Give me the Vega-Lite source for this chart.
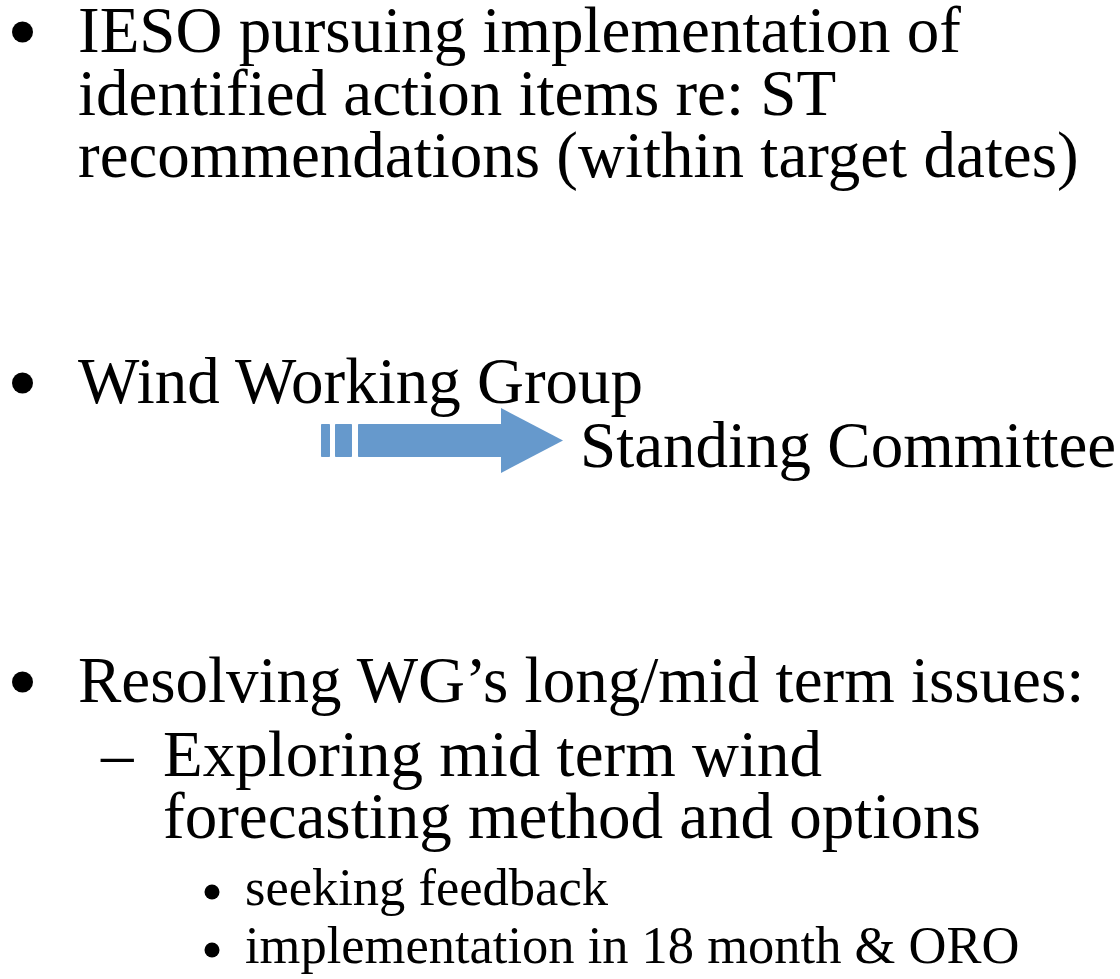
{
  "$schema": "https://vega.github.io/schema/vega-lite/v6.json",
  "width": 1120,
  "height": 979,
  "autosize": {"type": "fit", "contains": "padding"},
  "padding": 0,
  "background": "white",
  "config": {"view": {"stroke": null}},
  "datasets": {
    "lines": [
      {"text": "IESO pursuing implementation of", "x": 78, "y": 52, "level": "main"},
      {"text": "identified action items re: ST", "x": 78, "y": 115, "level": "main"},
      {"text": "recommendations (within target dates)", "x": 78, "y": 177, "level": "main"},
      {"text": "Wind Working Group", "x": 78, "y": 403, "level": "main"},
      {"text": "Standing Committee", "x": 580, "y": 467, "level": "main"},
      {"text": "Resolving WG’s long/mid term issues:", "x": 78, "y": 702, "level": "main"},
      {"text": "–", "x": 101, "y": 776, "level": "main"},
      {"text": "Exploring mid term wind", "x": 163, "y": 776, "level": "main"},
      {"text": "forecasting method and options", "x": 163, "y": 838, "level": "main"},
      {"text": "seeking feedback", "x": 245, "y": 905, "level": "sub"},
      {"text": "implementation in 18 month & ORO", "x": 245, "y": 963, "level": "sub"}
    ],
    "bullets": [
      {"x": 22.5, "y": 32, "level": "main"},
      {"x": 22.5, "y": 383, "level": "main"},
      {"x": 22.5, "y": 682, "level": "main"},
      {"x": 212, "y": 892, "level": "sub"},
      {"x": 212, "y": 950, "level": "sub"}
    ],
    "arrowParts": [
      {"x": 321, "x2": 330, "y": 424, "y2": 457},
      {"x": 335, "x2": 352, "y": 424, "y2": 457},
      {"x": 358, "x2": 502, "y": 424, "y2": 457}
    ],
    "arrowHead": [
      {"x": 501, "y": 408, "y2": 473},
      {"x": 563, "y": 440.5, "y2": 440.5}
    ]
  },
  "layer": [
    {
      "data": {"name": "arrowParts"},
      "mark": {"type": "rect", "color": "#6699cc", "cornerRadius": 1},
      "encoding": {
        "x": {"field": "x", "type": "quantitative", "scale": {"domain": [0, 1120], "nice": false, "zero": false}, "axis": null},
        "x2": {"field": "x2"},
        "y": {"field": "y", "type": "quantitative", "scale": {"domain": [0, 979], "nice": false, "zero": false, "reverse": true}, "axis": null},
        "y2": {"field": "y2"}
      }
    },
    {
      "data": {"name": "arrowHead"},
      "mark": {"type": "area", "color": "#6699cc", "orient": "vertical"},
      "encoding": {
        "x": {"field": "x", "type": "quantitative", "axis": null},
        "y": {"field": "y", "type": "quantitative", "axis": null},
        "y2": {"field": "y2"}
      }
    },
    {
      "data": {"name": "bullets"},
      "transform": [{"filter": "datum.level === 'main'"}],
      "mark": {"type": "point", "shape": "circle", "filled": true, "color": "black", "opacity": 1, "size": 441},
      "encoding": {
        "x": {"field": "x", "type": "quantitative", "axis": null},
        "y": {"field": "y", "type": "quantitative", "axis": null}
      }
    },
    {
      "data": {"name": "bullets"},
      "transform": [{"filter": "datum.level === 'sub'"}],
      "mark": {"type": "point", "shape": "circle", "filled": true, "color": "black", "opacity": 1, "size": 225},
      "encoding": {
        "x": {"field": "x", "type": "quantitative", "axis": null},
        "y": {"field": "y", "type": "quantitative", "axis": null}
      }
    },
    {
      "data": {"name": "lines"},
      "transform": [{"filter": "datum.level === 'main'"}],
      "mark": {"type": "text", "align": "left", "baseline": "alphabetic", "font": "Liberation Serif", "fontSize": 65, "color": "black"},
      "encoding": {
        "x": {"field": "x", "type": "quantitative", "axis": null},
        "y": {"field": "y", "type": "quantitative", "axis": null},
        "text": {"field": "text"}
      }
    },
    {
      "data": {"name": "lines"},
      "transform": [{"filter": "datum.level === 'sub'"}],
      "mark": {"type": "text", "align": "left", "baseline": "alphabetic", "font": "Liberation Serif", "fontSize": 52.5, "color": "black"},
      "encoding": {
        "x": {"field": "x", "type": "quantitative", "axis": null},
        "y": {"field": "y", "type": "quantitative", "axis": null},
        "text": {"field": "text"}
      }
    }
  ]
}
